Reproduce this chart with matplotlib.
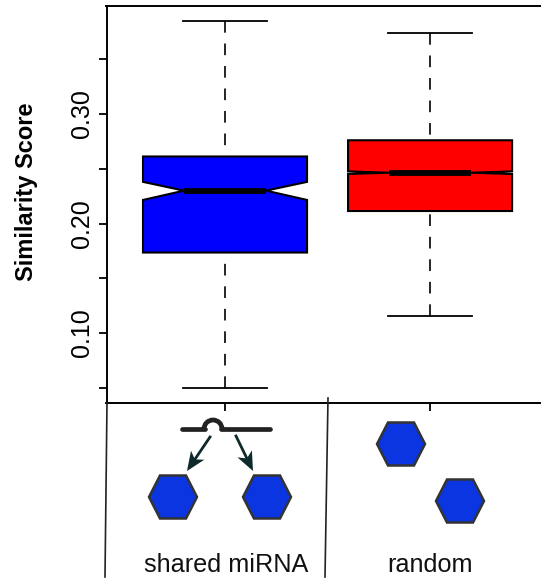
import matplotlib
matplotlib.use("Agg")
import matplotlib.pyplot as plt
from matplotlib.patches import Polygon, Arc
import numpy as np

plt.rcParams['font.family'] = ['Liberation Sans', 'DejaVu Sans']

W, H = 541, 581
categories = ["shared miRNA", "random"]
med = [0.230, 0.2464]
q1 = [0.1735, 0.2114]
q3 = [0.2612, 0.276]
whislo = [0.050, 0.1155]
whishi = [0.385, 0.374]
cilo = [0.2215, 0.2452]
cihi = [0.2380, 0.2476]
colors = ["#0000ff", "#ff0000"]
yticks_major = [0.10, 0.20, 0.30]
yticks_minor = [0.05, 0.15, 0.25, 0.35]

fig = plt.figure(figsize=(W/100, H/100), dpi=100)
L, R, T, B = 106.5, 541, 6, 403
ax = fig.add_axes([L/W, 1-B/H, (R-L)/W, (B-T)/H])

stats = [dict(med=m, q1=a, q3=b, whislo=l, whishi=h, cilo=c0, cihi=c1, fliers=[], label=c)
         for m, a, b, l, h, c0, c1, c in zip(med, q1, q3, whislo, whishi, cilo, cihi, categories)]
bp = ax.bxp(stats, positions=[1, 2], widths=0.8, shownotches=True, patch_artist=True,
            showfliers=False, capwidths=0.41,
            boxprops=dict(linewidth=1.5, edgecolor='black'),
            medianprops=dict(color='black', linewidth=4.2, solid_capstyle='butt', zorder=6),
            whiskerprops=dict(color='black', linewidth=1.2, linestyle=(0, (7, 6.5))),
            capprops=dict(color='black', linewidth=1.3))
for box, c in zip(bp['boxes'], colors):
    box.set_facecolor(c)
# dashes start at the whisker end, not at the box
for line in bp['whiskers']:
    x, y = line.get_data()
    line.set_data(x[::-1], y[::-1])

ax.set_xlim(0.422, 2.541)
ax.set_ylim(0.0361, 0.3986)
ax.spines['right'].set_visible(False)
for s in ('left', 'top', 'bottom'):
    ax.spines[s].set_linewidth(1.4)

ax.set_xticks([1, 2])
ax.set_xticklabels([])
ax.tick_params(axis='x', length=6, width=1.3)
ax.set_yticks(yticks_major)
ax.set_yticklabels([f"{v:.2f}" for v in yticks_major], rotation=90, va='center', fontsize=18)
ax.set_yticks(yticks_minor, minor=True)
ax.tick_params(axis='y', which='both', length=6, width=1.3, pad=3)

# Hand-drawn schematic below the plot, in pixel coordinates
ov = fig.add_axes([0, 0, 1, 1], facecolor='none')
ov.set_xlim(0, W)
ov.set_ylim(H, 0)
ov.axis('off')
dark = '#222222'
ov.plot([107, 105], [403, 577], color=dark, lw=1.2)
ov.plot([328, 325], [398, 577], color=dark, lw=1.2)


def hexagon(cx, cy):
    hw, hh, tw = 24, 21.5, 13
    pts = [(cx-hw, cy), (cx-tw, cy-hh), (cx+tw, cy-hh), (cx+hw, cy), (cx+tw, cy+hh), (cx-tw, cy+hh)]
    ov.add_patch(Polygon(pts, closed=True, facecolor='#0a35e0', edgecolor='#333333', lw=1.8))


def arrow(p0, p1, head=19, half=8, notch=14):
    p0, p1 = np.array(p0, float), np.array(p1, float)
    u = (p1 - p0) / np.linalg.norm(p1 - p0)
    n = np.array([-u[1], u[0]])
    ov.plot([p0[0], (p1 - u*notch)[0]], [p0[1], (p1 - u*notch)[1]], color='#0e2a2a', lw=2)
    pts = [p1, p1 - u*head + n*half, p1 - u*notch, p1 - u*head - n*half]
    ov.add_patch(Polygon(pts, closed=True, facecolor='#0e2a2a', edgecolor='none'))


for cx, cy in [(173, 497), (267, 497), (401, 444), (460, 501)]:
    hexagon(cx, cy)

ov.plot([182, 205], [429, 429], color=dark, lw=3.4, solid_capstyle='round')
ov.plot([221, 270], [429, 429], color=dark, lw=3.4, solid_capstyle='round')
ov.add_patch(Arc((213, 429), 18, 18, theta1=180, theta2=360, color=dark, lw=3.4))
arrow((210, 437), (187, 471))
arrow((236, 436), (253, 471))

ov.text(226, 572, categories[0], ha='center', va='baseline', fontsize=18.2, color='#111111')
ov.text(430, 572, categories[1], ha='center', va='baseline', fontsize=18.2, color='#111111')
ov.text(27, 192, "Similarity Score", rotation=90, ha='center', va='center',
        fontsize=17, fontweight='bold', color='black')

fig.savefig("out.png", dpi=100)
